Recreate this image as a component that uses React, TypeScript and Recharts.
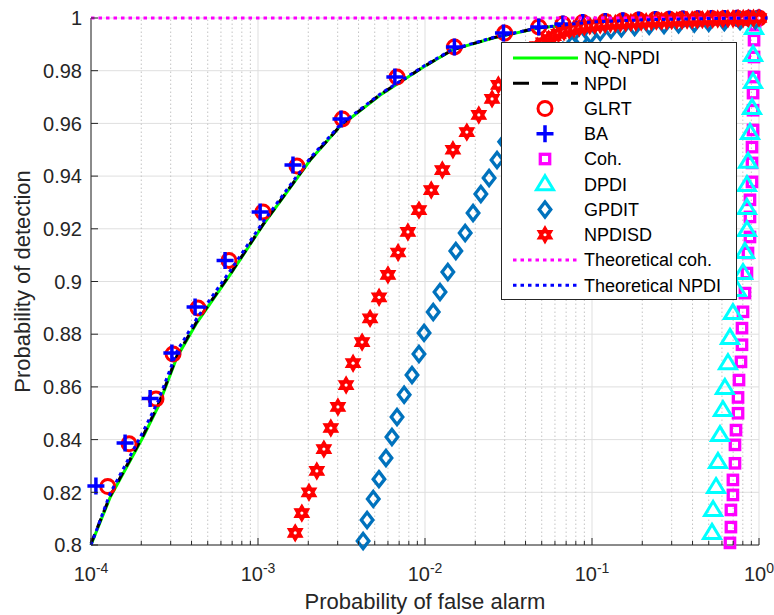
import React from 'react';
import { ComposedChart, Line, Scatter, XAxis, YAxis, CartesianGrid, ReferenceLine, Legend } from 'recharts';

const FONT = '"Liberation Sans", Arial, Helvetica, sans-serif';
const AXIS = '#262626';

// probability of false alarm grid for the curves
const curvePfa = [1e-4, 1.3e-4, 2.05e-4, 2.52e-4, 3.27e-4, 4.3e-4, 6.8e-4, 1.07e-3, 2.05e-3, 3.1e-3, 5.4e-3, 9.8e-3, 1.47e-2, 2.56e-2, 4.8e-2, 0.1, 0.2, 0.5, 1];
const nqNpdiPd = [0.8, 0.818, 0.841, 0.8524, 0.8713, 0.8843, 0.9025, 0.9214, 0.946, 0.9589, 0.9708, 0.9814, 0.988, 0.9924, 0.9962, 0.9984, 0.9993, 0.9998, 1];
const npdiPd = [0.8005, 0.8185, 0.8415, 0.853, 0.8718, 0.8848, 0.9028, 0.9216, 0.9462, 0.959, 0.971, 0.9815, 0.988, 0.9925, 0.9963, 0.9984, 0.9993, 0.9998, 1];
const theoNpdiPd = [0.8, 0.8195, 0.843, 0.8545, 0.8735, 0.886, 0.904, 0.9225, 0.9468, 0.9594, 0.9712, 0.9817, 0.9882, 0.9926, 0.9963, 0.9985, 0.9993, 0.9998, 1];

const theoCohPfa = [1e-4, 1e-3, 1e-2, 1e-1, 1];
const theoCohPd = [1, 1, 1, 1, 1];

const glrtPfa = [1.26e-4, 1.69e-4, 2.45e-4, 3.1e-4, 4.37e-4, 6.7e-4, 1.07e-3, 1.71e-3, 3.2e-3, 6.8e-3, 1.5e-2, 3.0e-2, 4.8e-2, 6.7e-2, 8.8e-2, 0.12, 0.153, 0.19, 0.24, 0.29, 0.35, 0.43, 0.52, 0.62, 0.74, 0.87, 1];
const glrtPd = [0.8222, 0.8384, 0.8554, 0.8725, 0.8899, 0.908, 0.9264, 0.9438, 0.9617, 0.9776, 0.989, 0.9943, 0.9966, 0.9977, 0.9983, 0.9987, 0.999, 0.9992, 0.9994, 0.9995, 0.9996, 0.9997, 0.9998, 0.9998, 0.9999, 0.9999, 1];

const baPfa = [1.07e-4, 1.6e-4, 2.26e-4, 3.05e-4, 4.2e-4, 6.35e-4, 1.03e-3, 1.62e-3, 3.14e-3, 6.6e-3, 1.5e-2, 2.95e-2, 4.8e-2, 6.7e-2, 8.8e-2, 0.12, 0.153, 0.19, 0.24, 0.29, 0.35, 0.43, 0.52, 0.62, 0.74, 0.87, 1];
const baPd = [0.8224, 0.8387, 0.8556, 0.8729, 0.8903, 0.908, 0.9264, 0.9442, 0.9617, 0.9776, 0.989, 0.9943, 0.9966, 0.9977, 0.9983, 0.9987, 0.999, 0.9992, 0.9994, 0.9995, 0.9996, 0.9997, 0.9998, 0.9998, 0.9999, 0.9999, 1];

const cohPfa = [0.67, 0.679, 0.679, 0.698, 0.698, 0.718, 0.718, 0.728, 0.749, 0.749, 0.759, 0.78, 0.791, 0.791, 0.802, 0.824, 0.847, 0.859, 0.883, 0.883, 0.883, 0.908, 0.908, 0.908, 0.921, 0.921, 0.921, 0.934, 0.934, 0.934, 0.947];
const cohPd = [0.8008, 0.8068, 0.8133, 0.819, 0.8247, 0.831, 0.838, 0.8436, 0.85, 0.856, 0.8626, 0.8695, 0.876, 0.8823, 0.8885, 0.8956, 0.9032, 0.9108, 0.9169, 0.9245, 0.931, 0.9378, 0.945, 0.951, 0.9575, 0.965, 0.9715, 0.9776, 0.9852, 0.9916, 0.9973];

const dpdiPfa = [0.523, 0.531, 0.553, 0.568, 0.584, 0.608, 0.625, 0.652, 0.67, 0.698, 0.738, 0.802, 0.824, 0.847, 0.847, 0.847, 0.859, 0.883, 0.908, 0.921, 0.921, 0.934];
const dpdiPd = [0.8046, 0.8133, 0.822, 0.8315, 0.8417, 0.8512, 0.8596, 0.869, 0.8786, 0.888, 0.8968, 0.9032, 0.9112, 0.9195, 0.9279, 0.9366, 0.9454, 0.9564, 0.9658, 0.9757, 0.986, 0.9962];

const gpditPfa = [4.26e-3, 4.5e-3, 4.9e-3, 5.3e-3, 5.84e-3, 6.34e-3, 6.8e-3, 7.5e-3, 8.36e-3, 9.2e-3, 9.87e-3, 1.12e-2, 1.23e-2, 1.37e-2, 1.53e-2, 1.74e-2, 1.94e-2, 2.16e-2, 2.42e-2, 2.7e-2, 3.0e-2, 3.3e-2, 3.7e-2, 4.1e-2, 4.6e-2, 5.2e-2, 5.9e-2, 6.7e-2, 7.6e-2, 8.6e-2, 9.8e-2, 0.112, 0.13, 0.15, 0.18, 0.22, 0.27, 0.33, 0.41, 0.5, 0.62, 0.77, 0.95];
const gpditPd = [0.8015, 0.8095, 0.8175, 0.825, 0.833, 0.841, 0.8486, 0.857, 0.8645, 0.8725, 0.8805, 0.8884, 0.896, 0.9036, 0.9116, 0.9184, 0.926, 0.9332, 0.9393, 0.9461, 0.953, 0.96, 0.9665, 0.972, 0.977, 0.981, 0.9845, 0.9875, 0.99, 0.992, 0.9935, 0.9947, 0.9955, 0.9961, 0.9966, 0.997, 0.9973, 0.9976, 0.9979, 0.9982, 0.9985, 0.9988, 0.9991];

const npdisdPfa = [
  1.67e-3, 1.83e-3, 2.02e-3, 2.25e-3, 2.48e-3, 2.73e-3, 3.01e-3, 3.37e-3, 3.71e-3, 4.2e-3, 4.69e-3, 5.31e-3, 6.0e-3, 6.9e-3, 7.9e-3,
  9.2e-3, 1.09e-2, 1.27e-2, 1.47e-2, 1.78e-2, 2.1e-2, 2.52e-2, 2.75e-2, 3.2e-2, 3.75e-2, 4.4e-2,
  0.047, 0.051, 0.055, 0.059, 0.063, 0.068, 0.073, 0.078, 0.084, 0.09, 0.097, 0.104, 0.112, 0.12, 0.129, 0.138, 0.148, 0.159,
  0.171, 0.183, 0.197, 0.211, 0.227, 0.243, 0.261, 0.28, 0.3, 0.322, 0.346, 0.371, 0.398, 0.427, 0.458, 0.492, 0.528, 0.566,
  0.607, 0.652, 0.699, 0.75, 0.805, 0.864, 0.927, 1,
];
const npdisdPd = [
  0.8046, 0.8121, 0.82, 0.8281, 0.8364, 0.8444, 0.8524, 0.8607, 0.869, 0.877, 0.886, 0.894, 0.9025, 0.911, 0.9188,
  0.9271, 0.9347, 0.9423, 0.95, 0.9567, 0.9632, 0.9693, 0.9746, 0.9795, 0.9838, 0.9875,
  0.9893, 0.9908, 0.992, 0.9931, 0.994, 0.9948, 0.9954, 0.9959, 0.9963, 0.9967, 0.997, 0.9972, 0.9974, 0.9976, 0.9978, 0.9979, 0.998, 0.9982,
  0.9983, 0.9984, 0.9985, 0.9986, 0.9987, 0.9988, 0.9988, 0.9989, 0.999, 0.9991, 0.9991, 0.9992, 0.9993, 0.9993, 0.9994, 0.9995, 0.9995, 0.9996,
  0.9996, 0.9997, 0.9997, 0.9998, 0.9998, 0.9999, 0.9999, 1,
];

const seriesNames = ['NQ-NPDI', 'NPDI', 'GLRT', 'BA', 'Coh.', 'DPDI', 'GPDIT', 'NPDISD', 'Theoretical coh.', 'Theoretical NPDI'];

const xMajorTicks = [1e-4, 1e-3, 1e-2, 1e-1, 1];
const xMinorTicks = xMajorTicks.slice(0, 4).flatMap((d) => [2, 3, 4, 5, 6, 7, 8, 9].map((m) => m * d));
const xTicks = [...xMajorTicks, ...xMinorTicks].sort((a, b) => a - b);
const yTicks = [0.8, 0.82, 0.84, 0.86, 0.88, 0.9, 0.92, 0.94, 0.96, 0.98, 1];

const pts = (xs: number[], ys: number[]) => ys.map((y, i) => ({ x: xs[i], y }));

const isMajor = (v: number) => {
  const l = Math.log10(v);
  return Math.abs(l - Math.round(l)) < 1e-6;
};

// markers
const Circle = ({ cx, cy }: any) => <circle cx={cx} cy={cy} r={7} fill="none" stroke="#ff0000" strokeWidth={3} />;
const Plus = ({ cx, cy }: any) => (
  <path d={`M${cx - 8.5},${cy}H${cx + 8.5}M${cx},${cy - 8.5}V${cy + 8.5}`} stroke="#0000ff" strokeWidth={3.5} fill="none" />
);
const Square = ({ cx, cy }: any) => (
  <rect x={cx - 4.7} y={cy - 4.7} width={9.4} height={9.4} fill="none" stroke="#ff00ff" strokeWidth={3.3} />
);
const Triangle = ({ cx, cy }: any) => (
  <path d={`M${cx},${cy - 8.5}L${cx + 8.5},${cy + 5.5}L${cx - 8.5},${cy + 5.5}Z`} fill="none" stroke="#00ffff" strokeWidth={3} />
);
const Diamond = ({ cx, cy }: any) => (
  <path d={`M${cx},${cy - 7.5}L${cx + 5.8},${cy}L${cx},${cy + 7.5}L${cx - 5.8},${cy}Z`} fill="none" stroke="#0072bd" strokeWidth={3.3} />
);
const Hexagram = ({ cx, cy }: any) => {
  const R = 8.5;
  let d = '';
  for (let k = 0; k < 12; k++) {
    const a = ((-90 + k * 30) * Math.PI) / 180;
    const r = k % 2 === 0 ? R : R / Math.sqrt(3);
    d += `${k === 0 ? 'M' : 'L'}${cx + r * Math.cos(a)},${cy + r * Math.sin(a)}`;
  }
  return (
    <g>
      <path d={d + 'Z'} fill="#ff0000" stroke="#ff0000" strokeWidth={1.2} />
      <circle cx={cx} cy={cy} r={1.6} fill="#ffffff" />
    </g>
  );
};

const XTick = ({ x, y, payload, side }: any) => {
  const v = payload.value;
  const major = isMajor(v);
  const len = major ? 7 : 4;
  const dir = side === 'top' ? 1 : -1;
  const exp = Math.round(Math.log10(v));
  return (
    <g>
      <line x1={x} x2={x} y1={y} y2={y + dir * len} stroke={AXIS} strokeWidth={1} />
      {side !== 'top' && major && (
        <text x={x} y={y + 36} textAnchor="middle" fontSize={20} fill={AXIS} fontFamily={FONT}>
          10
          <tspan fontSize={14} dy={-8}>{`${exp}`}</tspan>
        </text>
      )}
    </g>
  );
};

const YTick = ({ x, y, payload, side }: any) => {
  const right = side === 'right';
  return (
    <g>
      <line x1={x} x2={x + (right ? -7 : 7)} y1={y} y2={y} stroke={AXIS} strokeWidth={1} />
      {!right && (
        <text x={x - 9} y={y} dy="0.36em" textAnchor="end" fontSize={20} fill={AXIS} fontFamily={FONT}>
          {String(payload.value)}
        </text>
      )}
    </g>
  );
};

const XLabel = ({ viewBox }: any) => (
  <text x={viewBox.x + viewBox.width / 2} y={viewBox.y + 64} textAnchor="middle" fontSize={22} fill={AXIS} fontFamily={FONT}>
    Probability of false alarm
  </text>
);

const YLabel = ({ viewBox }: any) => {
  const cx = viewBox.x + 30;
  const cy = viewBox.y + viewBox.height / 2;
  return (
    <text x={cx} y={cy} transform={`rotate(-90, ${cx}, ${cy})`} textAnchor="middle" fontSize={22} fill={AXIS} fontFamily={FONT}>
      Probability of detection
    </text>
  );
};

const legendSample = (i: number) => {
  const y = 16 + i * 25.25;
  const mx = 44;
  switch (i) {
    case 0:
      return <line x1={12} x2={77} y1={y} y2={y} stroke="#00ff00" strokeWidth={3} />;
    case 1:
      return <line x1={12} x2={77} y1={y} y2={y} stroke="#000000" strokeWidth={3} strokeDasharray="16 13" />;
    case 2:
      return <Circle cx={mx} cy={y} />;
    case 3:
      return <Plus cx={mx} cy={y} />;
    case 4:
      return <Square cx={mx} cy={y} />;
    case 5:
      return <Triangle cx={mx} cy={y} />;
    case 6:
      return <Diamond cx={mx} cy={y} />;
    case 7:
      return <Hexagram cx={mx} cy={y} />;
    case 8:
      return <line x1={12} x2={77} y1={y} y2={y} stroke="#ff00ff" strokeWidth={3} strokeDasharray="3.5 4" />;
    default:
      return <line x1={12} x2={77} y1={y} y2={y} stroke="#0000ff" strokeWidth={3} strokeDasharray="3.5 4" />;
  }
};

const LegendBox = () => (
  <svg width={236} height={258} style={{ display: 'block' }}>
    <rect x={0.5} y={0.5} width={235} height={257} fill="#ffffff" stroke={AXIS} strokeWidth={1} />
    {seriesNames.map((name, i) => (
      <g key={name}>
        {legendSample(i)}
        <text x={83} y={16 + i * 25.25} dy="0.36em" fontSize={18} fill="#000000" fontFamily={FONT}>
          {name}
        </text>
      </g>
    ))}
  </svg>
);

const App: React.FC = () => {
  return (
    <div style={{ position: 'absolute', left: 0, top: 0, fontFamily: FONT, background: '#fff' }}>
      <ComposedChart width={774} height={615} margin={{ top: 18, right: 15, bottom: 0, left: 0 }}>
        <CartesianGrid vertical={false} stroke="#dfdfdf" />
        {xMinorTicks.map((v) => (
          <ReferenceLine key={`minor-${v}`} x={v} stroke="#c4c4c4" strokeDasharray="1.5 2.5" zIndex={-90} />
        ))}
        {xMajorTicks.map((v) => (
          <ReferenceLine key={`major-${v}`} x={v} stroke="#dfdfdf" zIndex={-90} />
        ))}
        <XAxis
          dataKey="x"
          type="number"
          scale="log"
          domain={[1e-4, 1]}
          ticks={xTicks}
          interval={0}
          tick={<XTick side="bottom" />}
          tickLine={false}
          tickSize={0}
          tickMargin={0}
          height={70}
          stroke={AXIS}
          label={<XLabel />}
        />
        <XAxis
          xAxisId="top"
          orientation="top"
          type="number"
          scale="log"
          domain={[1e-4, 1]}
          allowDataOverflow
          ticks={xTicks}
          interval={0}
          tick={<XTick side="top" />}
          tickLine={false}
          tickSize={0}
          tickMargin={0}
          height={0}
          stroke={AXIS}
        />
        <YAxis
          dataKey="y"
          type="number"
          domain={[0.8, 1]}
          ticks={yTicks}
          interval={0}
          tick={<YTick side="left" />}
          tickLine={false}
          tickSize={0}
          tickMargin={0}
          width={91}
          stroke={AXIS}
          label={<YLabel />}
        />
        <YAxis
          yAxisId="right"
          orientation="right"
          type="number"
          domain={[0.8, 1]}
          allowDataOverflow
          ticks={yTicks}
          interval={0}
          tick={<YTick side="right" />}
          tickLine={false}
          tickSize={0}
          tickMargin={0}
          width={0}
          stroke={AXIS}
        />

        <Line data={pts(curvePfa, nqNpdiPd)} dataKey="y" name={seriesNames[0]} stroke="#00ff00" strokeWidth={3} dot={false} activeDot={false} isAnimationActive={false} type="linear" />
        <Line data={pts(curvePfa, npdiPd)} dataKey="y" name={seriesNames[1]} stroke="#000000" strokeWidth={3} strokeDasharray="10 7" dot={false} activeDot={false} isAnimationActive={false} type="linear" />
        <Scatter data={pts(glrtPfa, glrtPd)} dataKey="y" name={seriesNames[2]} shape={(p: any) => <Circle cx={p.cx} cy={p.cy} />} isAnimationActive={false} />
        <Scatter data={pts(baPfa, baPd)} dataKey="y" name={seriesNames[3]} shape={(p: any) => <Plus cx={p.cx} cy={p.cy} />} isAnimationActive={false} />
        <Scatter data={pts(cohPfa, cohPd)} dataKey="y" name={seriesNames[4]} shape={(p: any) => <Square cx={p.cx} cy={p.cy} />} isAnimationActive={false} />
        <Scatter data={pts(dpdiPfa, dpdiPd)} dataKey="y" name={seriesNames[5]} shape={(p: any) => <Triangle cx={p.cx} cy={p.cy} />} isAnimationActive={false} />
        <Scatter data={pts(gpditPfa, gpditPd)} dataKey="y" name={seriesNames[6]} shape={(p: any) => <Diamond cx={p.cx} cy={p.cy} />} isAnimationActive={false} />
        <Scatter data={pts(npdisdPfa, npdisdPd)} dataKey="y" name={seriesNames[7]} shape={(p: any) => <Hexagram cx={p.cx} cy={p.cy} />} isAnimationActive={false} />
        <Line data={pts(theoCohPfa, theoCohPd)} dataKey="y" name={seriesNames[8]} stroke="#ff00ff" strokeWidth={3} strokeDasharray="3.5 4" dot={false} activeDot={false} isAnimationActive={false} type="linear" zIndex={650} />
        <Line data={pts(curvePfa, theoNpdiPd)} dataKey="y" name={seriesNames[9]} stroke="#0000ff" strokeWidth={3} strokeDasharray="3.5 4" dot={false} activeDot={false} isAnimationActive={false} type="linear" zIndex={650} />

        <Legend
          layout="horizontal"
          verticalAlign="middle"
          align="center"
          wrapperStyle={{ left: 501, top: 42, width: 236, height: 258 }}
          content={() => <LegendBox />}
        />
      </ComposedChart>
    </div>
  );
};

export default App;
